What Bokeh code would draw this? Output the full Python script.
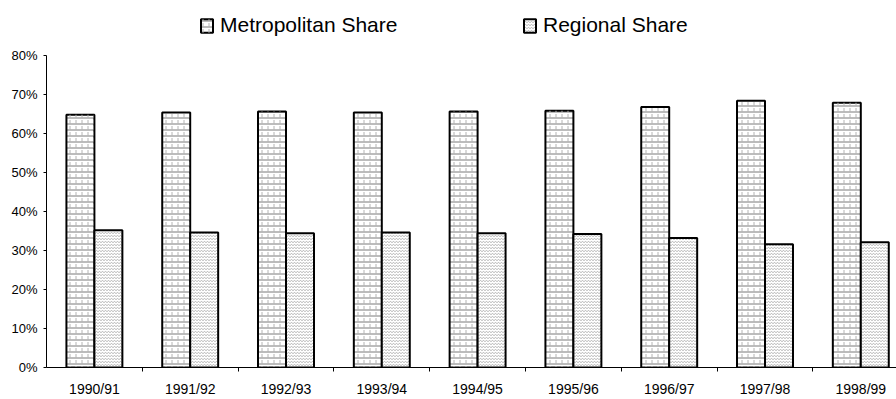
from bokeh.plotting import figure
from bokeh.models import (ColumnDataSource, FixedTicker, NumeralTickFormatter,
                          Legend, LegendItem)
from bokeh.embed import file_html
from bokeh.resources import INLINE

# Financial years and the two shares of the total (fractions of 1)
years = ["1990/91", "1991/92", "1992/93", "1993/94", "1994/95",
         "1995/96", "1996/97", "1997/98", "1998/99"]
metro_share = [0.648, 0.654, 0.656, 0.654, 0.656, 0.658, 0.668, 0.684, 0.679]
regional_share = [0.352, 0.346, 0.344, 0.346, 0.344, 0.342, 0.332, 0.316, 0.321]

FONT = "Liberation Sans"
CAT_W = 95.8          # pixels per category slot
LEFT = 46
WIDTH, HEIGHT = 896, 399
BOTTOM = 30
PX_PER_UNIT = 392.2   # vertical pixels per 100%

centers = [i + 0.5 for i in range(len(years))]
bar_w = 0.292
src = ColumnDataSource(dict(
    xm=[c - bar_w / 2 for c in centers],
    xr=[c + bar_w / 2 for c in centers],
    metro=metro_share,
    regional=regional_share,
))

frame_h = HEIGHT - BOTTOM
p = figure(width=WIDTH, height=HEIGHT, output_backend="svg", toolbar_location=None,
           x_range=(0, (WIDTH - LEFT) / CAT_W), y_range=(0, frame_h / PX_PER_UNIT),
           min_border_left=LEFT, min_border_right=0, min_border_top=0,
           min_border_bottom=BOTTOM)
p.outline_line_color = None
p.xgrid.visible = False
p.ygrid.visible = False
p.background_fill_color = "white"

# Metropolitan bars: brick-like texture from two hatch layers
m1 = p.vbar(x="xm", top="metro", width=bar_w, source=src,
            fill_color="white", line_color="black", line_width=2,
            hatch_pattern="horizontal_line", hatch_color="#7a7a7a",
            hatch_scale=6, hatch_weight=1)
m2 = p.vbar(x="xm", top="metro", width=bar_w - 0.02, source=src,
            fill_color=None, line_color=None,
            hatch_pattern="vertical_dash", hatch_color="#b4b4b4",
            hatch_scale=6, hatch_weight=1)

# Regional bars: fine zigzag texture
r1 = p.vbar(x="xr", top="regional", width=bar_w, source=src,
            fill_color="white", line_color="black", line_width=2,
            hatch_pattern="horizontal_wave", hatch_color="#b0b0b0",
            hatch_scale=3, hatch_weight=1)

# Axes
p.yaxis.bounds = (0, 0.8)
p.yaxis.ticker = FixedTicker(ticks=[i / 10 for i in range(9)])
p.yaxis.formatter = NumeralTickFormatter(format="0%")
p.yaxis.minor_tick_line_color = None
p.yaxis.major_tick_in = 0
p.yaxis.major_tick_out = 3
p.yaxis.major_label_standoff = 6
p.yaxis.major_label_text_font = FONT
p.yaxis.major_label_text_font_size = "13px"
p.yaxis.major_label_text_color = "black"
p.yaxis.axis_line_color = "black"

p.xaxis.ticker = FixedTicker(ticks=centers,
                             minor_ticks=list(range(1, len(years) + 1)))
p.xaxis.major_label_overrides = {c: y for c, y in zip(centers, years)}
p.xaxis.major_tick_line_color = None
p.xaxis.major_tick_in = 0
p.xaxis.major_tick_out = 4
p.xaxis.minor_tick_in = 0
p.xaxis.minor_tick_out = 4
p.xaxis.minor_tick_line_color = "black"
p.xaxis.major_label_standoff = 9
p.xaxis.major_label_text_font = FONT
p.xaxis.major_label_text_font_size = "14px"
p.xaxis.major_label_text_color = "black"
p.xaxis.axis_line_color = "black"

# Two legend entries placed across the top
def make_legend(label, renderers, x):
    lg = Legend(items=[LegendItem(label=label, renderers=renderers)],
                location=(x, frame_h - 39), orientation="horizontal",
                border_line_color=None, background_fill_alpha=0,
                padding=0, margin=0, glyph_width=15, glyph_height=17,
                label_standoff=6, label_text_font=FONT,
                label_text_font_size="21px", label_text_color="black")
    p.add_layout(lg, "center")

make_legend("Metropolitan Share", [m1, m2], 199 - LEFT)
make_legend("Regional Share", [r1], 522 - LEFT)

open("out.html", "w").write(file_html(p, INLINE))
